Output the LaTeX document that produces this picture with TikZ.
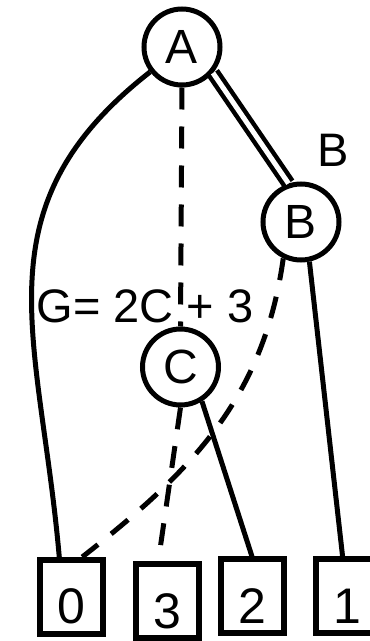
\documentclass[tikz,border=0pt]{standalone}
\usepackage{fontspec}
\setmainfont{Liberation Sans}
\usetikzlibrary{positioning}
\begin{document}
\begin{tikzpicture}[x=1pt,y=1pt,line width=5pt]
  \tikzstyle{vert}=[circle, draw, minimum size=76pt, inner sep=0pt,
               font=\fontsize{48}{50}\selectfont]
  \tikzstyle{term}=[rectangle, draw, line width=6pt, minimum width=63pt,
               minimum height=74pt, inner sep=0pt, text height=54pt,
               text depth=0pt, font=\fontsize{50}{52}\selectfont]
  \tikzstyle{lowedge}=[dash pattern=on 22pt off 17pt]
  \tikzstyle{lbl}=[font=\fontsize{47}{50}\selectfont, inner sep=0pt]
  \clip (0,0) rectangle (370,641);
  % decision nodes
  \node[vert] (A) at (182,594) {A};
  \node[vert] (B) at (301,419) {B};
  \node[vert] (C) at (180.5,274) {C};
  % terminal boxes
  \node[term] (t0) at (71.5,44) {0};
  \node[term] (t3) at (167.5,39.5) {3};
  \node[term] (t2) at (252,44.5) {2};
  \node[term] (t1) at (347.5,44.5) {1};
  % labels
  \node[lbl] (gl) at (145,334.5) {G= 2C + 3};
  \node[lbl] (bl) at (333,491) {B};
  % edges
  \draw (A.218) to[out=218, in=95, looseness=1.15] (t0.107);
  \draw[lowedge] (A.south) -- (C.north);
  \draw[double, double distance=5pt, line width=4.5pt] (A.-40) -- (B.108);
  \draw[lowedge] (B.244) to[out=262, in=38] (t0.75);
  \draw (B.-78) -- (t1.97);
  \draw[lowedge] (C.south) -- (t3.103);
  \draw (C.-58) -- (t2.north);
\end{tikzpicture}
\end{document}
